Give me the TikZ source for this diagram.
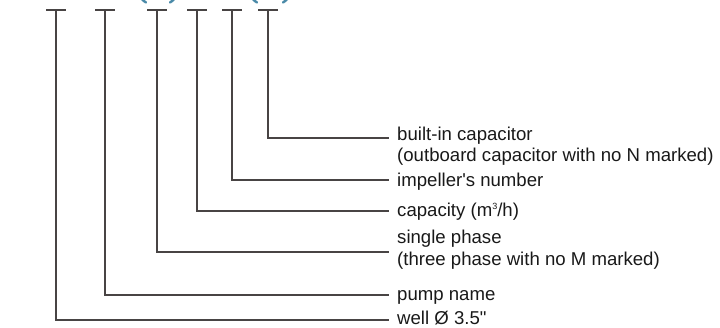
\documentclass[tikz,border=0pt]{standalone}
\usepackage{fontspec}
\setmainfont{Liberation Sans}[Ligatures=TeXOff]
\usetikzlibrary{positioning}
\definecolor{leadLine}{RGB}{72,68,68}
\definecolor{codeBlue}{RGB}{74,138,168}
\newcommand{\cubic}{\raisebox{0.75ex}{\fontsize{9}{9}\selectfont 3}}
\tikzset{
    lead/.style={draw=leadLine,line width=1.1pt},
    tickbar/.style={draw=leadLine,line width=1.1pt},
    lbl/.style={anchor=base west,inner sep=0pt,font=\fontsize{18.6}{21.5}\selectfont,
        align=left,text=black!90},
    paren/.style={draw=codeBlue,line width=2.4pt,line cap=round}
}
\begin{document}
\begin{tikzpicture}[x=1pt,y=-1pt]
    \useasboundingbox (0,0) rectangle (720,327);
    \clip (0,0) rectangle (720,327);

    % cut-off brackets of the code
    \draw[paren] (138,-9) .. controls (139,-3) and (142,0) .. (146,2.5);
    \draw[paren] (178,-9) .. controls (177,-3) and (174,0) .. (170,2.5);
    \draw[paren] (249,-9) .. controls (250,-3) and (253,0) .. (257,2.5);
    \draw[paren] (291,-9) .. controls (290,-3) and (287,0) .. (283,2.5);

    % top of each lead
    \coordinate (wellT) at ( 56,10);
    \coordinate (nameT) at (105,10);
    \coordinate (phaseT) at (157,10);
    \coordinate (capT) at (197,10);
    \coordinate (impT) at (232,10);
    \coordinate (capcT) at (268,10);

    % free ends of the leads
    \coordinate (wellE) at (389,320);
    \coordinate (nameE) at (389,295);
    \coordinate (phaseE) at (389,252);
    \coordinate (capE) at (389,211);
    \coordinate (impE) at (389,180);
    \coordinate (capcE) at (389,138);

    % base of a two-line label is its last line
    \node[lbl] (capc)  at (397,161.5) {built-in capacitor\\(outboard capacitor with no N marked)};
    \node[lbl] (imp)   at (397,186) {impeller's number};
    \node[lbl] (cap)   at (397,216.5) {capacity (m\cubic/h)};
    \node[lbl] (phase) at (397,265) {single phase\\(three phase with no M marked)};
    \node[lbl] (name)  at (397,300.5) {pump name};
    \node[lbl] (well)  at (397,324.5) {well Ø 3.5"};

    \foreach \t in {well,name,phase,cap,imp,capc} {
        \draw[tickbar] ([xshift=-10pt]\t T) -- ([xshift=10pt]\t T);
        \draw[lead] (\t T) |- (\t E);
    }
\end{tikzpicture}
\end{document}
